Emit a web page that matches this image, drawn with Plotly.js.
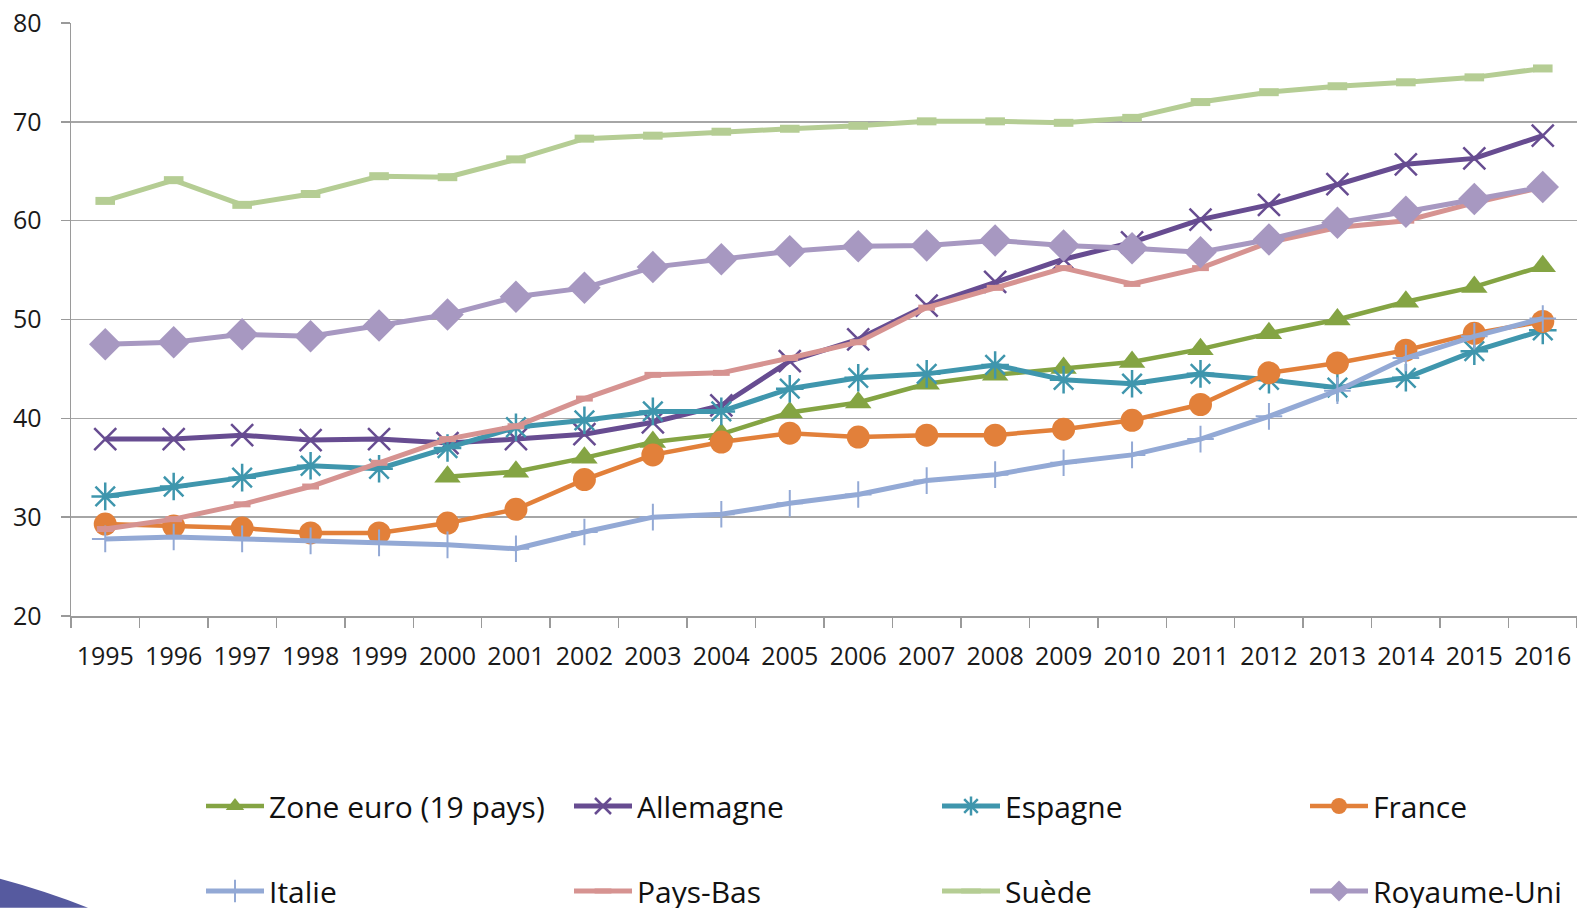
<!DOCTYPE html>
<html>
<head>
<meta charset="utf-8">
<script src="https://cdn.plot.ly/plotly-3.0.1.min.js"></script>
<style>html,body{margin:0;padding:0;background:#fff;}#chart{width:1577px;height:908px;}</style>
</head>
<body>
<div id="chart"></div>
<script>
const years = ['1995','1996','1997','1998','1999','2000','2001','2002','2003','2004','2005','2006','2007','2008','2009','2010','2011','2012','2013','2014','2015','2016'];

const zoneEuro   = [null,null,null,null,null,34.1,34.6,36.0,37.6,38.4,40.6,41.6,43.5,44.4,45.1,45.7,47.0,48.6,50.0,51.8,53.3,55.4];
const allemagne  = [37.9,37.9,38.3,37.8,37.9,37.5,37.9,38.4,39.6,41.3,45.8,48.0,51.4,53.8,56.1,57.8,60.1,61.6,63.7,65.7,66.3,68.6];
const espagne    = [32.1,33.1,34.0,35.2,34.9,37.0,39.1,39.8,40.7,40.7,43.0,44.1,44.5,45.4,43.9,43.5,44.5,43.9,43.1,44.1,46.8,48.9];
const france     = [29.3,29.1,28.9,28.4,28.4,29.4,30.8,33.8,36.3,37.6,38.5,38.1,38.3,38.3,38.9,39.8,41.4,44.6,45.6,46.9,48.6,49.8];
const italie     = [27.8,28.0,27.8,27.6,27.4,27.2,26.8,28.5,30.0,30.3,31.4,32.3,33.7,34.3,35.5,36.3,37.9,40.2,42.8,46.1,48.3,50.1];
const paysBas    = [28.8,29.8,31.3,33.1,35.5,37.9,39.2,42.0,44.4,44.6,46.1,47.7,51.2,53.2,55.2,53.6,55.2,57.8,59.3,60.0,61.8,63.4];
const suede      = [62.0,64.1,61.6,62.7,64.5,64.4,66.2,68.3,68.6,69.0,69.3,69.6,70.05,70.05,69.9,70.4,72.0,73.0,73.6,74.0,74.5,75.4];
const royaumeUni = [47.5,47.7,48.5,48.3,49.4,50.5,52.3,53.2,55.3,56.1,56.9,57.4,57.5,58.0,57.5,57.2,56.8,58.1,59.8,60.9,62.2,63.4];

const yTicks = [20,30,40,50,60,70,80];

const W = 1577, H = 908;
const M = {l: 71, r: 0, t: 22.7, b: 292};
const pw = W - M.l - M.r, ph = H - M.t - M.b;
function px2x(p){ return (p - M.l) / pw; }
function py2y(p){ return (H - M.b - p) / ph; }

function tr(name, y, color, lw, sym, size, mline, legend){
  return {
    type: 'scatter', mode: 'lines+markers', name: name, x: years, y: y,
    legend: legend, connectgaps: false,
    line: {color: color, width: lw},
    marker: {symbol: sym, size: size, color: color, line: {color: color, width: mline}},
    cliponaxis: false
  };
}

const data = [
  tr('Royaume-Uni', royaumeUni, '#a798c1', 5, 'diamond', 25, 0, 'legend2'),
  tr('Suède', suede, '#b5cd94', 5, 'line-ew-open', 14, 8, 'legend2'),
  tr('Pays-Bas', paysBas, '#d69391', 5, 'line-ew-open', 12, 6, 'legend2'),
  tr('Italie', italie, '#93a9d5', 5, 'cross-thin-open', 19, 2, 'legend2'),
  tr('Zone euro (19 pays)', zoneEuro, '#84a443', 4.5, 'triangle-up', 23, 0, 'legend'),
  tr('Allemagne', allemagne, '#674c91', 5, 'x-thin-open', 22, 2.5, 'legend'),
  tr('Espagne', espagne, '#3f96ad', 5, 'asterisk-open', 23, 2.5, 'legend'),
  tr('France', france, '#e2803a', 4.5, 'circle', 23, 0, 'legend')
];

// legend order: first row Zone euro, Allemagne, Espagne, France; second row Italie, Pays-Bas, Suède, Royaume-Uni
const ordered = [data[4], data[5], data[6], data[7], data[3], data[2], data[1], data[0]];
ordered.forEach((t, i) => { t.legendrank = i + 1; });

const legendBase = {
  orientation: 'h', xref: 'container', yref: 'container',
  x: 201 / W, xanchor: 'left', yanchor: 'middle',
  font: {family: 'Open Sans', size: 30, color: '#111'},
  itemwidth: 58, entrywidth: 295, entrywidthmode: 'pixels',
  bgcolor: 'rgba(0,0,0,0)', borderwidth: 0, traceorder: 'normal',
  itemclick: false, itemdoubleclick: false
};

const layout = {
  width: W, height: H,
  margin: {l: M.l, r: M.r, t: M.t, b: M.b, pad: 0},
  paper_bgcolor: '#ffffff', plot_bgcolor: '#ffffff',
  showlegend: true,
  legend: Object.assign({}, legendBase, {y: 1 - 806 / H}),
  legend2: Object.assign({}, legendBase, {y: 1 - 891 / H}),
  xaxis: {
    type: 'category', range: [-0.5, 21.5], fixedrange: true,
    tickmode: 'array', tickvals: years, ticktext: years,
    tickson: 'boundaries', ticks: 'outside', ticklen: 10, tickwidth: 1.5, tickcolor: '#9a9a9a',
    showline: true, linecolor: '#9a9a9a', linewidth: 1.5,
    showgrid: false, zeroline: false,
    tickfont: {family: 'Open Sans', size: 25, color: '#1a1a1a'},
    ticklabelstandoff: 17
  },
  yaxis: {
    range: [20, 80], fixedrange: true,
    tickmode: 'array', tickvals: yTicks, ticktext: yTicks.map(String),
    ticks: 'outside', ticklen: 9, tickwidth: 1.5, tickcolor: '#9a9a9a',
    showline: true, linecolor: '#9a9a9a', linewidth: 1.5,
    showgrid: true, gridcolor: '#a6a6a6', gridwidth: 1.5, zeroline: false,
    tickfont: {family: 'Open Sans', size: 25, color: '#1a1a1a'},
    ticklabelstandoff: 14
  },
  shapes: [{
    type: 'path', xref: 'paper', yref: 'paper', layer: 'above',
    path: 'M ' + px2x(0) + ',' + py2y(879) +
          ' Q ' + px2x(45) + ',' + py2y(891) + ' ' + px2x(88) + ',' + py2y(908) +
          ' L ' + px2x(0) + ',' + py2y(908) + ' Z',
    fillcolor: '#565a9f', line: {width: 0}
  }]
};

Plotly.newPlot('chart', ordered, layout, {displayModeBar: false, staticPlot: true});
</script>
</body>
</html>
